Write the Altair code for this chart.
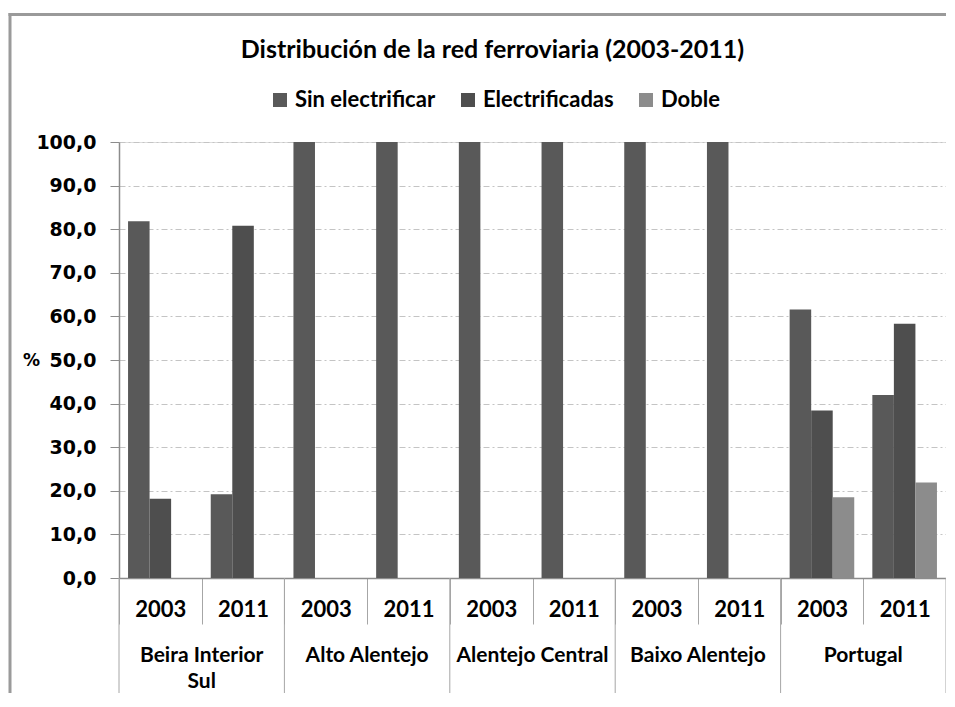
import altair as alt
import pandas as pd

# ---- data ----
regions = ["Beira Interior Sul", "Alto Alentejo", "Alentejo Central", "Baixo Alentejo", "Portugal"]
region_labels = ["Beira Interior\nSul", "Alto Alentejo", "Alentejo Central", "Baixo Alentejo", "Portugal"]
years = ["2003", "2011"]
series = ["Sin electrificar", "Electrificadas", "Doble"]
sin_electrificar = [81.8, 19.2, 100.0, 100.0, 100.0, 100.0, 100.0, 100.0, 61.6, 42.0]
electrificadas = [18.2, 80.8, 0.0, 0.0, 0.0, 0.0, 0.0, 0.0, 38.4, 58.3]
doble = [0.0, 0.0, 0.0, 0.0, 0.0, 0.0, 0.0, 0.0, 18.5, 21.9]
y_ticks = [0, 10, 20, 30, 40, 50, 60, 70, 80, 90, 100]
colors = ["#595959", "#4e4e4e", "#8c8c8c"]

slots = [f"{r}|{y}" for r in regions for y in years]
rows = []
for i, s in enumerate(slots):
    for name, vals in zip(series, [sin_electrificar, electrificadas, doble]):
        rows.append({"slot": s, "serie": name, "valor": vals[i]})
df = pd.DataFrame(rows)

df_reg = pd.DataFrame({"slot": [f"{r}|{years[1]}" for r in regions], "label": region_labels})
df_sep = pd.DataFrame({"slot": [f"{r}|{years[0]}" for r in regions]})
df_end = pd.DataFrame({"slot": [slots[-1]]})

W, H = 827, 436
FONT = "Lato"
GRAY = "#9a9a9a"

xscale = alt.Scale(domain=slots, paddingInner=0, paddingOuter=0)

bars = alt.Chart(df).mark_bar().encode(
    x=alt.X(
        "slot:N",
        scale=xscale,
        axis=alt.Axis(
            title=None,
            labelExpr="split(datum.value, '|')[1]",
            tickBand="extent",
            tickSize=46,
            tickColor="#a6a6a6",
            tickWidth=1,
            domainColor="#8c8c8c",
            domainWidth=1.5,
            labelFont=FONT,
            labelFontSize=22,
            labelFontWeight="bold",
            labelColor="#000000",
            labelAngle=0,
            labelPadding=-15,
            labelBaseline="middle",
            grid=False,
        ),
    ),
    xOffset=alt.XOffset(
        "serie:N",
        scale=alt.Scale(domain=series, paddingInner=0, paddingOuter=0.42),
    ),
    y=alt.Y(
        "valor:Q",
        scale=alt.Scale(domain=[0, 100], nice=False),
        axis=alt.Axis(
            values=y_ticks,
            labelExpr="replace(format(datum.value, '.1f'), '.', ',')",
            title="%",
            titleAngle=0,
            titleX=-88,
            titleY=218,
            titleAlign="center",
            titleBaseline="middle",
            titleFont="DejaVu Sans",
            titleFontSize=17,
            titleFontWeight="bold",
            titleColor="#000000",
            labelFont="DejaVu Sans",
            labelFontSize=19,
            labelFontWeight="bold",
            labelColor="#000000",
            labelPadding=14,
            tickSize=9,
            tickColor="#8c8c8c",
            domainColor="#8c8c8c",
            domainWidth=1.5,
            grid=True,
            gridDash=[6, 3, 2, 3],
            gridColor="#c4c4c4",
        ),
    ),
    color=alt.Color(
        "serie:N",
        scale=alt.Scale(domain=series, range=colors),
        legend=alt.Legend(
            title=None,
            orient="none",
            legendX=150,
            legendY=-53,
            direction="horizontal",
            symbolType="square",
            symbolSize=196,
            symbolStrokeWidth=0,
            labelFont=FONT,
            labelFontSize=22,
            labelFontWeight="bold",
            labelColor="#000000",
            columnPadding=21,
            labelOffset=4,
        ),
    ),
)

reg_text = alt.Chart(df_reg).mark_text(
    font=FONT, fontSize=21, fontWeight="bold", color="#000000",
    baseline="alphabetic", align="center", lineBreak="\n", lineHeight=26,
).encode(
    x=alt.X("slot:N", scale=xscale, bandPosition=0, axis=None),
    y=alt.value(H + 84),
    text="label:N",
)

sep = alt.Chart(df_sep).mark_rule(color="#a6a6a6", strokeWidth=1).encode(
    x=alt.X("slot:N", scale=xscale, bandPosition=0, axis=None),
    y=alt.value(H),
    y2=alt.value(H + 130),
)
sep_end = alt.Chart(df_end).mark_rule(color="#a6a6a6", strokeWidth=1).encode(
    x=alt.X("slot:N", scale=xscale, bandPosition=1, axis=None),
    y=alt.value(H),
    y2=alt.value(H + 130),
)

frame_df = pd.DataFrame({"k": [0]})
frame_left = alt.Chart(frame_df).mark_rule(color=GRAY, strokeWidth=3).encode(
    x=alt.value(-109),
    y=alt.value(-129),
    y2=alt.value(H + 200),
)
frame_top = alt.Chart(frame_df).mark_rect(color=GRAY, strokeWidth=0).encode(
    x=alt.value(-110.5),
    x2=alt.value(W),
    y=alt.value(-129),
    y2=alt.value(-126),
)

chart = alt.layer(frame_left, frame_top, sep, sep_end, bars, reg_text).properties(
    width=W,
    height=H,
    title=alt.Title(
        "Distribución de la red ferroviaria (2003-2011)",
        font=FONT, fontSize=25, fontWeight="bold", color="#000000",
        anchor="middle", offset=0, dx=-40, dy=51,
    ),
    autosize=alt.AutoSizeParams(type="none"),
    padding={"left": 111, "top": 134, "right": 0, "bottom": 115},
).resolve_axis(x="independent").configure_view(stroke="transparent").configure(background="white")

chart.save("out.html", embed_options={"renderer": "svg", "actions": False})
